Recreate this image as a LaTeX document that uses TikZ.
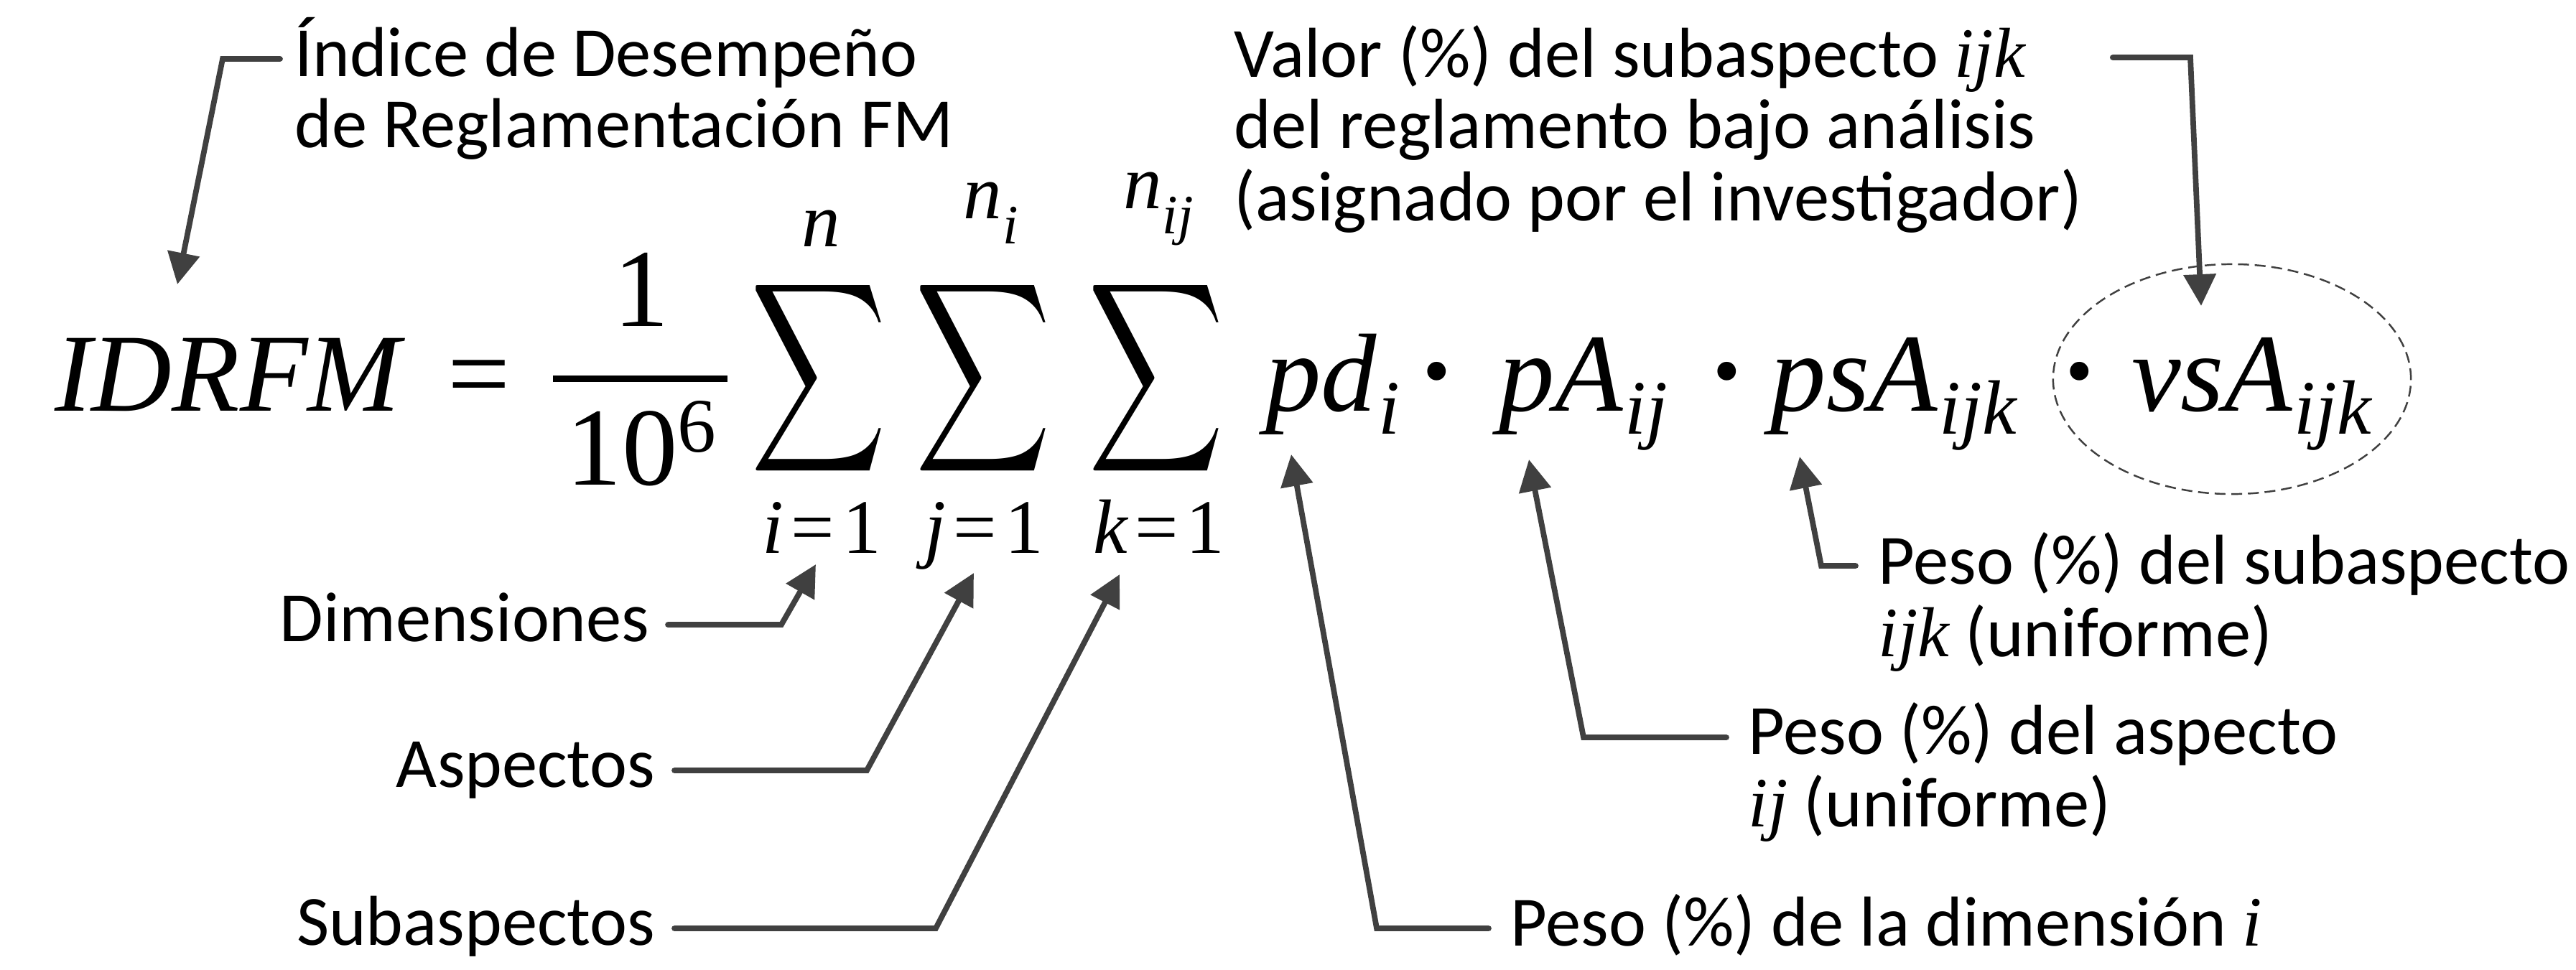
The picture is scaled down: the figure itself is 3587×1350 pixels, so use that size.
\documentclass[tikz,border=0pt]{standalone}
\usepackage{graphicx}
\usepackage{fontspec}
\setmainfont{Carlito}
\newfontfamily\fmfont{Liberation Serif}
\usetikzlibrary{arrows.meta,shapes.geometric}
\definecolor{lc}{HTML}{404040}
\newcommand\mainsz{\fontsize{44}{44}\selectfont}
\newcommand\dotsz{\fontsize{62}{62}\selectfont}
\newcommand\subsz{\fontsize{30.5}{30.5}\selectfont}
\newcommand\ssubsz{\fontsize{22}{22}\selectfont}
\newcommand\lblsz{\fontsize{28}{28.2}\selectfont}
\newcommand\mvar[1]{{\fmfont\itshape #1}}
\newcommand\msub[1]{\kern0.03cm\raisebox{-0.32cm}{\subsz\mvar{#1}}}
\newcommand\mssub[1]{\kern0.01cm\raisebox{-0.35cm}{\ssubsz\mvar{#1}}}
\newcommand\bigsum{\resizebox*{1.89cm}{2.95cm}{$\displaystyle\sum$}}
\tikzset{
  lbl/.style={inner sep=0pt,font=\lblsz},
  fml/.style={inner sep=0pt,font=\fmfont\mainsz},
  mdot/.style={inner sep=0pt,font=\fmfont\dotsz,anchor=base},
  lim/.style={inner sep=0pt,font=\fmfont\subsz},
  arr/.style={draw=lc,line width=2.2pt,line cap=round,line join=miter,
    -{Triangle[length=12.5pt,width=12.5pt]}},
  sel/.style={draw=lc,ellipse,dashed,line width=0.7pt,dash pattern=on 4.3pt off 2.3pt,
    inner sep=0pt,minimum width=4.98cm,minimum height=3.2cm}
}
\begin{document}
\begin{tikzpicture}[x=0.01cm,y=-0.01cm]
\fill[white] (0,0) rectangle (3587,1350);
\useasboundingbox (0,0) rectangle (3587,1350);

% formula
\node[fml,anchor=base] (lhs) at (317,572) {\itshape IDRFM};
\node[fml,anchor=base] (eq) at (667,572) {=};
\node[fml,anchor=base] (num) at (893,454) {1};
\node[fml,anchor=base] (den) at (893,675) {10\raisebox{0.45cm}{\subsz 6}};
\draw[line width=2.56pt] (770,527) -- (1013,527);
\node[inner sep=0pt] (s1) at (1140,527) {\bigsum};
\node[inner sep=0pt] (s2) at (1369,527) {\bigsum};
\node[inner sep=0pt] (s3) at (1610,527) {\bigsum};
\node[lim,anchor=base] (u1) at (1143,343) {\itshape n};
\node[lim,anchor=base] (u2) at (1380,304) {\itshape n\mssub{i}};
\node[lim,anchor=base] (u3) at (1613,290) {\itshape n\mssub{ij}};
\node[lim,anchor=base] (l1) at (1144,770) {\mvar{i}\kern0.1em=\kern0.1em1};
\node[lim,anchor=base] (l2) at (1370,770) {\mvar{j}\kern0.1em=\kern0.1em1};
\node[lim,anchor=base] (l3) at (1614,770) {\mvar{k}\kern0.1em=\kern0.1em1};
\node[fml,anchor=base] (pd) at (1856,572) {\itshape pd\msub{i}};
\node[mdot] (d1) at (2001,589) {·};
\node[fml,anchor=base] (pA) at (2205,572) {\itshape pA\msub{ij}};
\node[mdot] (d2) at (2405,589) {·};
\node[fml,anchor=base] (psA) at (2637,572) {\itshape psA\msub{ijk}};
\node[mdot] (d3) at (2896,589) {·};
\node[fml,anchor=base] (vsA) at (3135,572) {\itshape vsA\msub{ijk}};
\node[sel] (ell) at (3108,528) {};

% labels
\node[lbl,anchor=base west] (ind) at (410,106)
  {\begin{tabular}[t]{@{}l@{}}Índice de Desempeño\\de Reglamentación FM\end{tabular}};
\node[lbl,anchor=base west] (val) at (1718,107)
  {\begin{tabular}[t]{@{}l@{}}Valor (\%) del subaspecto \mvar{ijk}\\del reglamento bajo análisis\\(asignado por el investigador)\end{tabular}};
\node[lbl,anchor=base east] (dim) at (905,893) {Dimensiones};
\node[lbl,anchor=base east] (asp) at (913,1096) {Aspectos};
\node[lbl,anchor=base east] (sub) at (913,1316) {Subaspectos};
\node[lbl,anchor=base west] (pdl) at (2103,1317) {Peso (\%) de la dimensión \mvar{i}};
\node[lbl,anchor=base west] (pal) at (2434,1050)
  {\begin{tabular}[t]{@{}l@{}}Peso (\%) del aspecto\\\mvar{ij} (uniforme)\end{tabular}};
\node[lbl,anchor=base west] (psl) at (2615,813)
  {\begin{tabular}[t]{@{}l@{}}Peso (\%) del subaspecto\\\mvar{ijk} (uniforme)\end{tabular}};

% arrow tips
\coordinate (t0) at (247,396);
\coordinate (t1) at (3065,426);
\coordinate (t2) at (1136,786);
\coordinate (t3) at (1356,798);
\coordinate (t4) at (1559,800);
\coordinate (t5) at (1798,633);
\coordinate (t6) at (2129,640);
\coordinate (t7) at (2506,636);

% connectors
\draw[arr] ([shift={(-20,-24)}]ind.base west) -- (310,82) -- (t0);
\draw[arr] ([shift={(42,-27)}]val.base east) -- (3050,80) -- (t1);
\draw[arr] ([shift={(25,-23)}]dim.base east) -- (1088,870) -- (t2);
\draw[arr] ([shift={(26,-23)}]asp.base east) -- (1207,1073) -- (t3);
\draw[arr] ([shift={(26,-23)}]sub.base east) -- (1303,1293) -- (t4);
\draw[arr] ([shift={(-30,-24)}]pdl.base west) -- (1917,1293) -- (t5);
\draw[arr] ([shift={(-30,-23)}]pal.base west) -- (2205,1027) -- (t6);
\draw[arr] ([shift={(-31,-25)}]psl.base west) -- (2536,788) -- (t7);
\end{tikzpicture}
\end{document}
